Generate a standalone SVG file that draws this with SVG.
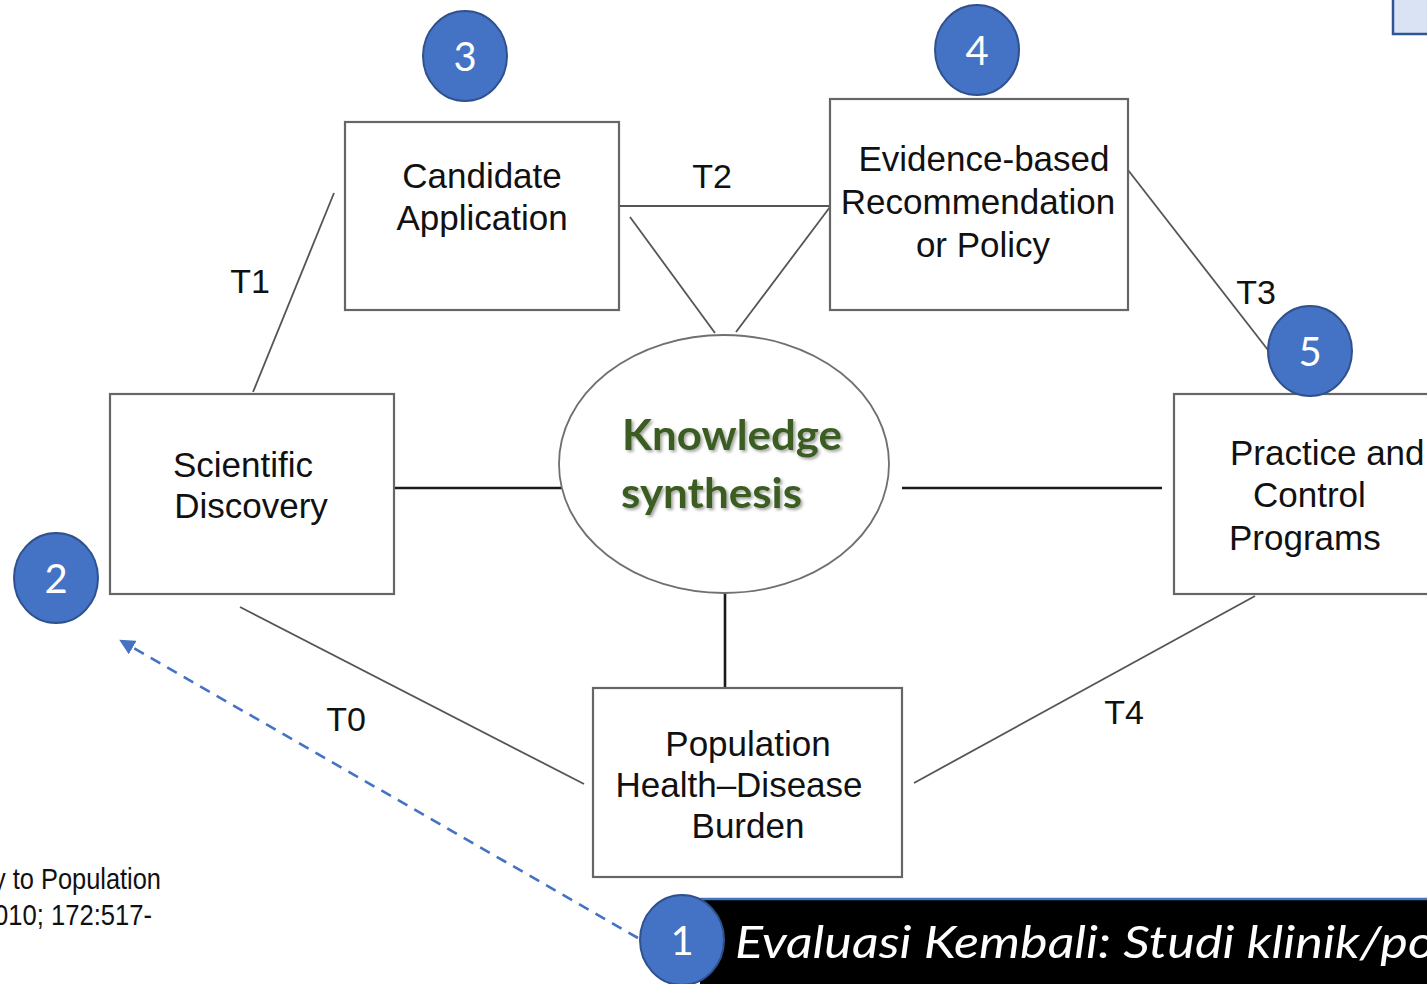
<svg xmlns="http://www.w3.org/2000/svg" width="1427" height="984" viewBox="0 0 1427 984">
  <defs>
    <style>
      .box { fill: #ffffff; stroke: #666666; stroke-width: 2.2; }
      .lbl { font-family: "Liberation Sans", Arial, sans-serif; font-size: 35px; fill: #111111; }
      .tag { font-family: "Liberation Sans", Arial, sans-serif; font-size: 34px; fill: #111111; text-anchor: middle; }
      .mid { text-anchor: middle; }
      .link { stroke: #555555; stroke-width: 1.8; fill: none; }
      .bar { stroke: #1a1a1a; stroke-width: 2.6; fill: none; }
      .badge { fill: #4472C4; stroke: #2F528F; stroke-width: 2; }
      .num { font-family: Lato, "Open Sans", sans-serif; font-size: 40px; fill: #ffffff; text-anchor: middle; }
      .ks { font-family: Lato, "Open Sans", sans-serif; font-weight: 700; font-size: 42px; fill: #3A5D22; }
      .cite { font-family: "Liberation Sans", Arial, sans-serif; font-size: 30px; fill: #111111; }
    </style>
    <filter id="softShadow" x="-10%" y="-20%" width="130%" height="150%">
      <feDropShadow dx="2" dy="2" stdDeviation="1.5" flood-color="#000000" flood-opacity="0.35"/>
    </filter>
    <marker id="arrowBlue" viewBox="0 0 10 10" refX="2" refY="5" markerWidth="6" markerHeight="6" orient="auto-start-reverse" markerUnits="strokeWidth">
      <path d="M0,0 L10,5 L0,10 Z" fill="#4472C4"/>
    </marker>
  </defs>

  <rect width="1427" height="984" fill="#ffffff"/>

  <!-- corner tab -->
  <rect id="corner-tab" x="1393" y="-4" width="40" height="38" fill="#DAE3F3" stroke="#2F5597" stroke-width="2.5"/>

  <!-- connectors -->
  <g id="connectors">
    <line class="link" x1="253" y1="392" x2="334" y2="193"/>
    <line class="link" x1="619" y1="206" x2="830" y2="206"/>
    <line class="link" x1="630" y1="217" x2="715" y2="333"/>
    <line class="link" x1="736" y1="332" x2="830" y2="207"/>
    <line class="link" x1="1128" y1="170" x2="1268" y2="350"/>
    <line class="bar" x1="394" y1="488" x2="562" y2="488"/>
    <line class="bar" x1="902" y1="488" x2="1162" y2="488"/>
    <line class="bar" x1="725" y1="593" x2="725" y2="689"/>
    <line class="link" x1="240" y1="607" x2="584" y2="784"/>
    <line class="link" x1="914" y1="783" x2="1255" y2="596"/>
    <line x1="638" y1="938" x2="130" y2="646" stroke="#4472C4" stroke-width="2.6" stroke-dasharray="11 8" marker-end="url(#arrowBlue)"/>
    <text class="tag" x="250" y="293">T1</text>
    <text class="tag" x="712" y="188">T2</text>
    <text class="tag" x="1256" y="304">T3</text>
    <text class="tag" x="346" y="731">T0</text>
    <text class="tag" x="1124" y="724">T4</text>
  </g>

  <!-- knowledge synthesis hub -->
  <g id="knowledge-synthesis">
    <ellipse cx="724" cy="464" rx="165" ry="129" fill="#ffffff" stroke="#707070" stroke-width="1.8"/>
    <g filter="url(#softShadow)">
      <text class="ks" x="622" y="450" textLength="220" lengthAdjust="spacingAndGlyphs">Knowledge</text>
      <text class="ks" x="621" y="508" textLength="181" lengthAdjust="spacingAndGlyphs">synthesis</text>
    </g>
  </g>

  <g id="candidate-application">
    <rect class="box" x="345" y="122" width="274" height="188"/>
    <text class="lbl mid" x="482" y="188">Candidate</text>
    <text class="lbl mid" x="482" y="230">Application</text>
  </g>

  <g id="evidence-policy">
    <rect class="box" x="830" y="99" width="298" height="211"/>
    <text class="lbl mid" x="984" y="171">Evidence-based</text>
    <text class="lbl mid" x="978" y="214">Recommendation</text>
    <text class="lbl mid" x="983" y="257">or Policy</text>
  </g>

  <g id="scientific-discovery">
    <rect class="box" x="110" y="394" width="284" height="200"/>
    <text class="lbl mid" x="243" y="477">Scientific</text>
    <text class="lbl mid" x="251" y="518">Discovery</text>
  </g>

  <g id="practice-control">
    <rect class="box" x="1174" y="394" width="270" height="200"/>
    <text class="lbl" x="1230" y="465">Practice and</text>
    <text class="lbl" x="1253" y="507">Control</text>
    <text class="lbl" x="1229" y="550">Programs</text>
  </g>

  <g id="population-burden">
    <rect class="box" x="593" y="688" width="309" height="189"/>
    <text class="lbl mid" x="748" y="756">Population</text>
    <text class="lbl mid" x="739" y="797">Health–Disease</text>
    <text class="lbl mid" x="748" y="838">Burden</text>
  </g>

  <!-- citation fragment -->
  <g id="citation">
    <text class="cite" x="-7" y="889" textLength="168" lengthAdjust="spacingAndGlyphs">y to Population</text>
    <text class="cite" x="-6" y="925" textLength="158" lengthAdjust="spacingAndGlyphs">010; 172:517-</text>
  </g>

  <!-- bottom banner -->
  <g id="banner">
    <rect x="700" y="900" width="740" height="90" fill="#000000"/>
    <line x1="700" y1="899" x2="1427" y2="899" stroke="#4472C4" stroke-width="2.5"/>
    <text x="735" y="958" font-family="Lato, 'Open Sans', sans-serif" font-style="italic" font-size="45" fill="#ffffff" textLength="700" lengthAdjust="spacingAndGlyphs">Evaluasi Kembali: Studi klinik/po</text>
  </g>

  <!-- numbered badges -->
  <g id="badge-1"><ellipse class="badge" cx="682" cy="940" rx="42" ry="45"/><text class="num" x="682" y="955">1</text></g>
  <g id="badge-2"><ellipse class="badge" cx="56" cy="578" rx="42" ry="45"/><text class="num" x="56" y="593">2</text></g>
  <g id="badge-3"><ellipse class="badge" cx="465" cy="56" rx="42" ry="45"/><text class="num" x="465" y="71">3</text></g>
  <g id="badge-4"><ellipse class="badge" cx="977" cy="50" rx="42" ry="45"/><text class="num" x="977" y="65">4</text></g>
  <g id="badge-5"><ellipse class="badge" cx="1310" cy="351" rx="42" ry="45"/><text class="num" x="1310" y="366">5</text></g>
</svg>
